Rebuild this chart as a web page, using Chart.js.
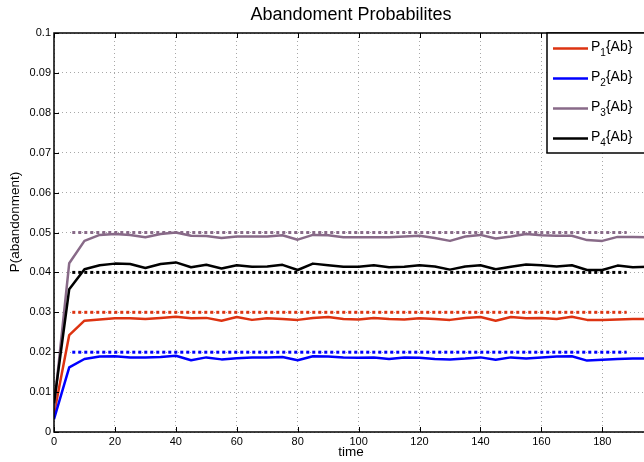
<!DOCTYPE html>
<html><head><meta charset="utf-8">
<script src="https://cdn.jsdelivr.net/npm/chart.js@4"></script>
<style>html,body{margin:0;padding:0;background:#fff;overflow:hidden;}canvas{display:block;}</style>
</head><body>
<canvas id="c" width="702" height="462"></canvas>
<script>
// ---- data ----
const time = [0,5,10,15,20,25,30,35,40,45,50,55,60,65,70,75,80,85,90,95,100,105,110,115,120,125,130,135,140,145,150,155,160,165,170,175,180,185,190,195];
const p1 = [0.0045,0.0243,0.0279,0.0282,0.0285,0.0285,0.0283,0.0286,0.0289,0.0285,0.0286,0.0279,0.0288,0.0281,0.0285,0.0283,0.0281,0.0286,0.0288,0.0283,0.0282,0.0286,0.0283,0.0282,0.0285,0.0283,0.0281,0.0286,0.0288,0.0279,0.0288,0.0285,0.0286,0.0283,0.0289,0.0281,0.0281,0.0282,0.0283,0.0283];
const p2 = [0.0032,0.0162,0.0183,0.0189,0.0190,0.0187,0.0187,0.0188,0.0191,0.0180,0.0187,0.0182,0.0185,0.0187,0.0187,0.0188,0.0180,0.0190,0.0189,0.0187,0.0186,0.0187,0.0183,0.0187,0.0186,0.0183,0.0182,0.0184,0.0187,0.0181,0.0187,0.0184,0.0187,0.0189,0.0190,0.0179,0.0181,0.0183,0.0184,0.0184];
const p3 = [0.0060,0.0423,0.0479,0.0494,0.0496,0.0494,0.0488,0.0496,0.0500,0.0492,0.0491,0.0486,0.0490,0.0490,0.0490,0.0493,0.0482,0.0494,0.0493,0.0488,0.0488,0.0488,0.0488,0.0490,0.0492,0.0486,0.0479,0.0490,0.0494,0.0485,0.0490,0.0496,0.0493,0.0492,0.0492,0.0481,0.0479,0.0489,0.0489,0.0488];
const p4 = [0.0072,0.0358,0.0408,0.0418,0.0422,0.0421,0.0411,0.0421,0.0425,0.0413,0.0419,0.0410,0.0418,0.0414,0.0415,0.0419,0.0406,0.0422,0.0418,0.0414,0.0414,0.0418,0.0413,0.0414,0.0418,0.0415,0.0407,0.0415,0.0418,0.0408,0.0414,0.0420,0.0418,0.0415,0.0418,0.0406,0.0406,0.0417,0.0413,0.0414];
const targetTimes = [6, 188];
const targets = [0.03, 0.02, 0.05, 0.04];
const seriesLabels = ['P_1{Ab}', 'P_2{Ab}', 'P_3{Ab}', 'P_4{Ab}'];
const xTicks = [0,20,40,60,80,100,120,140,160,180];
const yTicks = [0,0.01,0.02,0.03,0.04,0.05,0.06,0.07,0.08,0.09,0.1];
const titleText = 'Abandoment Probabilites';
const xLabel = 'time';
const yLabel = 'P(abandonment)';

// ---- styling ----
const colors = ['#dd3311', '#0000ff', '#886a88', '#000000'];
const FONT = "'Liberation Sans', Arial, Helvetica, sans-serif";
const series = [p1, p2, p3, p4];

const datasets = [];
series.forEach((vals, i) => {
  datasets.push({
    label: seriesLabels[i],
    data: time.map((t, k) => ({x: t, y: vals[k]})),
    borderColor: colors[i], backgroundColor: colors[i],
    borderWidth: 2.5, pointRadius: 0, tension: 0, fill: false,
    borderJoinStyle: 'round', order: 4 - i
  });
});
targets.forEach((v, i) => {
  datasets.push({
    label: seriesLabels[i] + ' target',
    data: targetTimes.map(t => ({x: t, y: v})),
    borderColor: colors[i], borderWidth: 3, borderDash: [3, 3],
    borderCapStyle: 'butt', pointRadius: 0, fill: false, order: 10
  });
});

const gridStyle = {color: '#a8a8a8', lineWidth: 1, drawTicks: false};
const borderStyle = {display: false, dash: [1, 3]};

const frame = {
  id: 'frame',
  afterDraw(chart) {
    const ctx = chart.ctx, a = chart.chartArea;
    const xs = chart.scales.x, ys = chart.scales.y;
    ctx.save();
    ctx.strokeStyle = '#000'; ctx.lineWidth = 1;
    ctx.beginPath();
    xTicks.forEach(v => {
      const px = Math.round(xs.getPixelForValue(v)) + 0.5;
      ctx.moveTo(px, a.bottom); ctx.lineTo(px, a.bottom - 5);
      ctx.moveTo(px, a.top); ctx.lineTo(px, a.top + 5);
    });
    yTicks.forEach(v => {
      const py = Math.round(ys.getPixelForValue(v)) + 0.5;
      ctx.moveTo(a.left, py); ctx.lineTo(a.left + 5, py);
    });
    ctx.stroke();
    ctx.lineWidth = 1.5;
    ctx.strokeRect(a.left, a.top, a.right - a.left, a.bottom - a.top);

    // y label
    ctx.save();
    ctx.translate(15.5, 222);
    ctx.rotate(-Math.PI / 2);
    ctx.fillStyle = '#000';
    ctx.font = '13.5px ' + FONT;
    ctx.textAlign = 'center'; ctx.textBaseline = 'middle';
    ctx.fillText(yLabel, 0, 0);
    ctx.restore();

    // legend
    const lx = 547, ly = 33, lw = 160, lh = 120;
    ctx.fillStyle = '#fff';
    ctx.fillRect(lx, ly, lw, lh);
    ctx.lineWidth = 1.5; ctx.strokeStyle = '#000';
    ctx.strokeRect(lx, ly, lw, lh);
    seriesLabels.forEach((lab, i) => {
      const y = ly + 15.5 + 30 * i;
      ctx.strokeStyle = colors[i]; ctx.lineWidth = 2.5;
      ctx.beginPath(); ctx.moveTo(lx + 6, y); ctx.lineTo(lx + 41, y); ctx.stroke();
      const parts = lab.split('_');
      const base = parts[0], sub = parts[1].charAt(0), rest = parts[1].slice(1);
      ctx.fillStyle = '#000'; ctx.textAlign = 'left'; ctx.textBaseline = 'alphabetic';
      let x = lx + 44;
      ctx.font = '14px ' + FONT;
      ctx.fillText(base, x, y + 2); x += ctx.measureText(base).width;
      ctx.font = '10px ' + FONT;
      ctx.fillText(sub, x, y + 7.5); x += ctx.measureText(sub).width;
      ctx.font = '14px ' + FONT;
      ctx.fillText(rest, x, y + 2);
    });
    ctx.restore();
  }
};

new Chart(document.getElementById('c'), {
  type: 'line',
  data: {datasets},
  options: {
    responsive: false, animation: false, events: [],
    layout: {padding: 0},
    plugins: {
      legend: {display: false}, tooltip: {enabled: false},
      title: {display: true, text: titleText, color: '#000',
        font: {family: FONT, size: 18, weight: 'normal'},
        padding: {top: 4.5, bottom: 6.9}}
    },
    scales: {
      x: {
        type: 'linear', min: 0, max: 195, position: 'bottom',
        afterBuildTicks: s => { s.ticks = xTicks.map(v => ({value: v})); },
        afterFit: s => { s.height = 30; },
        ticks: {color: '#000', font: {family: FONT, size: 11}, padding: 3, maxRotation: 0, autoSkip: false},
        grid: gridStyle, border: borderStyle,
        title: {display: true, text: xLabel, color: '#000', font: {family: FONT, size: 13.5}, padding: {top: 0, bottom: 2}}
      },
      y: {
        type: 'linear', min: 0, max: 0.1, position: 'left',
        afterBuildTicks: s => { s.ticks = yTicks.map(v => ({value: v})); },
        afterFit: s => { s.width = 54; },
        ticks: {color: '#000', font: {family: FONT, size: 11}, padding: 3,
          callback: v => String(+Number(v).toFixed(2))},
        grid: gridStyle, border: borderStyle
      },
      y2: {
        type: 'linear', position: 'right', display: true,
        ticks: {display: false}, grid: {display: false}, border: {display: false},
        afterFit: s => { s.width = 54; }
      }
    }
  },
  plugins: [frame]
});
</script>
</body></html>
